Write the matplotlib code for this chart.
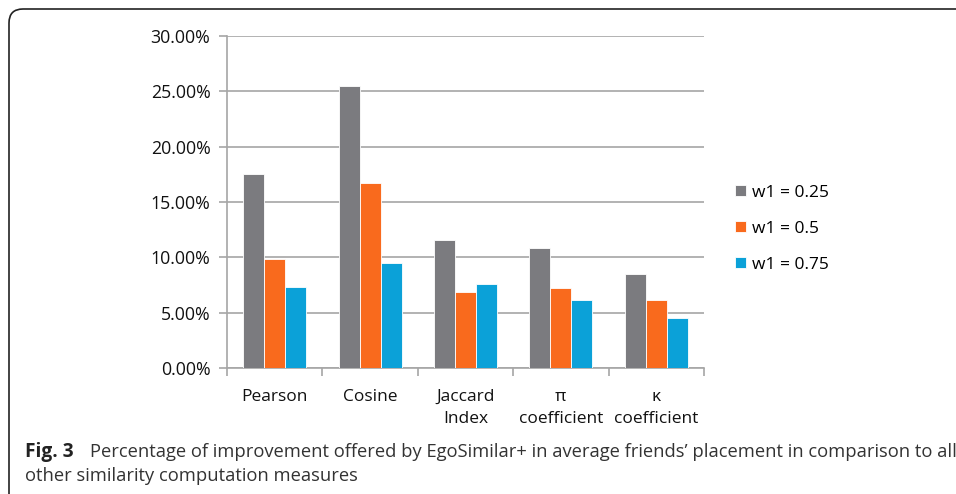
import matplotlib.pyplot as plt
from matplotlib.patches import FancyBboxPatch
import numpy as np

plt.rcParams['font.family'] = ['Open Sans', 'DejaVu Sans']

categories = ["Pearson", "Cosine", "Jaccard\nIndex", "π\ncoefficient", "κ\ncoefficient"]
series_names = ["w1 = 0.25", "w1 = 0.5", "w1 = 0.75"]
w025 = [17.5, 25.5, 11.6, 10.85, 8.5]
w05 = [9.85, 16.7, 6.9, 7.25, 6.15]
w075 = [7.3, 9.45, 7.55, 6.15, 4.5]
colors = ["#7b7b7f", "#f96a1d", "#0ba1d8"]

fig = plt.figure(figsize=(9.56, 4.94), dpi=100)
ax = fig.add_axes([0.2375, 0.2551, 0.4989, 0.672])

x = np.arange(len(categories)) + 0.5
bw = 0.22
for i, (vals, name) in enumerate(zip([w025, w05, w075], series_names)):
    ax.bar(x + (i - 1) * bw, vals, bw, color=colors[i], label=name,
           edgecolor="white", linewidth=0.6, zorder=3)

ax.set_xlim(0, 5)
ax.set_ylim(0, 30)
ax.set_yticks(np.arange(0, 31, 5))
ax.set_yticklabels([f"{v:.2f}%" for v in np.arange(0, 31, 5)], fontsize=12.8, color="#111111")
ax.yaxis.grid(True, color="#a6a6a6", linewidth=1.2, zorder=0)

ax.set_xticks(np.arange(0, 6))
ax.set_xticklabels([])
ax.set_xticks(x, minor=True)
ax.set_xticklabels(categories, minor=True, fontsize=12.5, linespacing=1.55, color="#111111")
ax.tick_params(axis="x", which="major", length=6, color="#a6a6a6", width=1.2)
ax.tick_params(axis="x", which="minor", length=0, pad=15)
ax.tick_params(axis="y", length=6, color="#a6a6a6", width=1.2, pad=6)

for s in ["top", "right"]:
    ax.spines[s].set_visible(False)
for s in ["left", "bottom"]:
    ax.spines[s].set_color("#a6a6a6")
    ax.spines[s].set_linewidth(1.2)

leg = ax.legend(loc="center left", bbox_to_anchor=(1.064, 0.42), frameon=False,
                fontsize=12.5, handlelength=0.65, handleheight=0.65,
                handletextpad=0.35, labelspacing=1.15, borderpad=0, borderaxespad=0)

# frame around figure + caption
box = FancyBboxPatch((9, -20), 1000, 505, boxstyle="round,pad=0,rounding_size=14",
                     transform=None, fill=False, edgecolor="#222222", linewidth=1.2)
fig.patches.append(box)

fig.text(25 / 956, 1 - 452 / 494, "Fig. 3", fontsize=13.8, fontweight="bold",
         va="center", ha="left", color="#222222")
fig.text(90 / 956, 1 - 452 / 494,
         "Percentage of improvement offered by EgoSimilar+ in average friends’ placement in comparison to all",
         fontsize=13.2, va="center", ha="left", color="#333333")
fig.text(25 / 956, 1 - 476 / 494, "other similarity computation measures",
         fontsize=13.2, va="center", ha="left", color="#333333")

fig.savefig("out.png", dpi=100)
